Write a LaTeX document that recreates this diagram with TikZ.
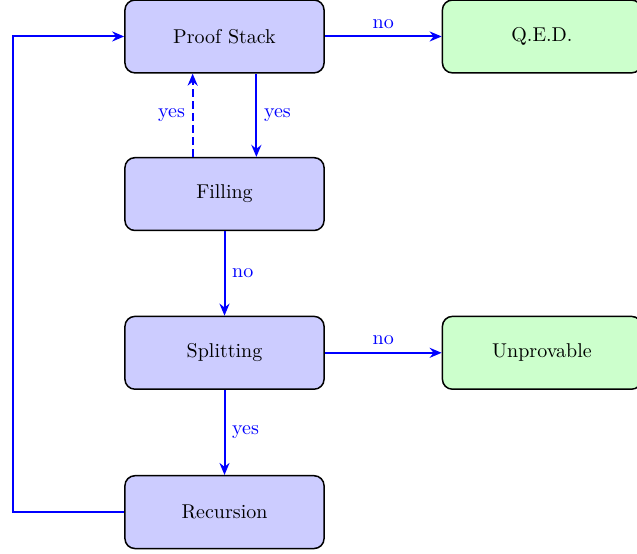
\documentclass[tikz,border=0pt]{standalone}
\usepackage{tikz}
\usetikzlibrary{arrows.meta,calc,positioning}
\definecolor{StepFill}{HTML}{CCCCFF}
\definecolor{EndFill}{HTML}{CCFFCC}
\definecolor{FlowCol}{HTML}{0000FF}

\begin{document}
\begin{tikzpicture}[
    box/.style={draw, line width=0.75pt, rounded corners=5pt, fill=StepFill,
      minimum width=3.5cm, minimum height=1.28cm},
    endbox/.style={box, fill=EndFill},
    flow/.style={-{Stealth[length=6pt,width=5pt]}, line width=1pt, FlowCol},
    lbl/.style={text=FlowCol}]
  \useasboundingbox (-3.946,0.641) rectangle (7.25,-9.095);
  \node[box]    (proof)      at (0,0)      {Proof Stack};
  \node[endbox] (qed)        at (5.58,0)   {Q.E.D.};
  \node[box]    (filling)    at (0,-2.77)  {Filling};
  \node[box]    (splitting)  at (0,-5.56)  {Splitting};
  \node[endbox] (unprovable) at (5.58,-5.56) {Unprovable};
  \node[box]    (recursion)  at (0,-8.36)  {Recursion};
  \coordinate (loopx) at (-3.717,0);
  \draw[flow] (proof) -- node[lbl,above] {no} (qed);
  \draw[flow] ([xshift=0.56cm]proof.south) -- node[lbl,right] {yes} ([xshift=0.56cm]filling.north);
  \draw[flow,dash pattern=on 4pt off 2pt] ([xshift=-0.56cm]filling.north) -- node[lbl,left] {yes} ([xshift=-0.56cm]proof.south);
  \draw[flow] (filling) -- node[lbl,right] {no} (splitting);
  \draw[flow] (splitting) -- node[lbl,above] {no} (unprovable);
  \draw[flow] (splitting) -- node[lbl,right] {yes} (recursion);
  % loop back to the stack
  \draw[flow] (recursion.west) -- (recursion.west -| loopx) -- (proof.west -| loopx) -- (proof.west);
\end{tikzpicture}
\end{document}
